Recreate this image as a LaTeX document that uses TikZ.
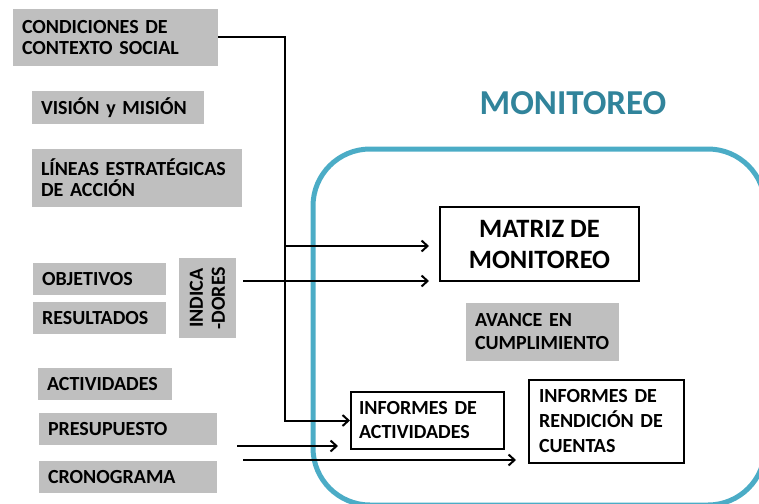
\documentclass[tikz,border=0pt]{standalone}
\usepackage{fontspec}
\setmainfont{Carlito}
\usetikzlibrary{arrows.meta}
\definecolor{boxgray}{RGB}{191,191,191}
\definecolor{frameblue}{RGB}{75,172,198}
\definecolor{titleblue}{RGB}{49,132,155}
\begin{document}
\begin{tikzpicture}[x=1pt,y=-1pt,
  gbox/.style={fill=boxgray, inner ysep=0pt, inner xsep=9pt, align=left,
    font=\fontsize{20}{21}\selectfont\bfseries},
  wbox/.style={draw=black, line width=2pt, fill=white, inner ysep=0pt, inner xsep=9pt,
    font=\fontsize{20}{24}\selectfont\bfseries},
  arr/.style={draw=black, line width=2pt, -{Straight Barb[length=6pt,width=11pt,line width=2pt]}}
]
\useasboundingbox (0,0) rectangle (759,503);
\begin{scope}
\clip (0,0) rectangle (759,503);
\draw[frameblue, line width=5pt, rounded corners=57pt] (313,149) rectangle (765,505);
\end{scope}

\node[titleblue, font=\fontsize{35}{40}\selectfont\bfseries] (title) at (573,103.5) {MONITOREO};

\node[gbox, text width=187pt, minimum height=57pt] (cond) at (115.5,37.5) {CONDICIONES DE\\CONTEXTO SOCIAL};
\node[gbox, text width=154pt, minimum height=33pt] (vision) at (118,107.5) {VISIÓN y MISIÓN};
\node[gbox, text width=192pt, minimum height=58pt] (lineas) at (137,178) {LÍNEAS ESTRATÉGICAS\\DE ACCIÓN};
\node[gbox, text width=115pt, minimum height=32pt] (obj) at (99.5,279) {OBJETIVOS};
\node[gbox, text width=115pt, minimum height=32pt] (res) at (99.5,318) {RESULTADOS};
\node[gbox, text width=116pt, minimum height=32pt] (act) at (105,384) {ACTIVIDADES};
\node[gbox, text width=160pt, minimum height=32pt] (pres) at (128,429) {PRESUPUESTO};
\node[gbox, text width=160pt, minimum height=32pt] (cron) at (128,477) {CRONOGRAMA};
\node[gbox, rotate=90, align=center, inner xsep=0pt, minimum width=80pt, minimum height=57pt,
  font=\fontsize{20}{22}\selectfont\bfseries] (indic) at (207.5,298) {INDICA\\-DORES};

\node[gbox, text width=135pt, minimum height=58pt, font=\fontsize{20}{23}\selectfont\bfseries] (avance) at (542.5,332) {AVANCE EN\\CUMPLIMIENTO};

\node[wbox, align=center, minimum width=199pt, minimum height=74pt,
  font=\fontsize{26.5}{31}\selectfont\bfseries] (matriz) at (539.5,244) {MATRIZ DE\\MONITOREO};
\node[wbox, align=left, text width=137pt, inner xsep=8pt, minimum height=57pt] (infact) at (427.5,420.5) {INFORMES DE\\ACTIVIDADES};
\node[wbox, align=left, text width=135pt, inner xsep=10pt, minimum height=83pt,
  font=\fontsize{20}{25}\selectfont\bfseries] (rend) at (606.5,421.5) {INFORMES DE\\RENDICIÓN DE\\CUENTAS};

\coordinate (j0) at (285,37.5);
\coordinate (j1) at (285,246);
\coordinate (i0) at (243,281);
\coordinate (p0) at (237,446);
\coordinate (p1) at (338,446);
\coordinate (c0) at (243,460);

\draw[arr] (cond.east) -- (j0) |- (infact.west);
\draw[arr, shorten >=10pt] (j1) -- (j1 -| matriz.west);
\draw[arr, shorten >=10pt] (i0) -- (i0 -| matriz.west);
\draw[arr] (p0) -- (p1);
\draw[arr, shorten >=12pt] (c0) -- (c0 -| rend.west);
\end{tikzpicture}
\end{document}
